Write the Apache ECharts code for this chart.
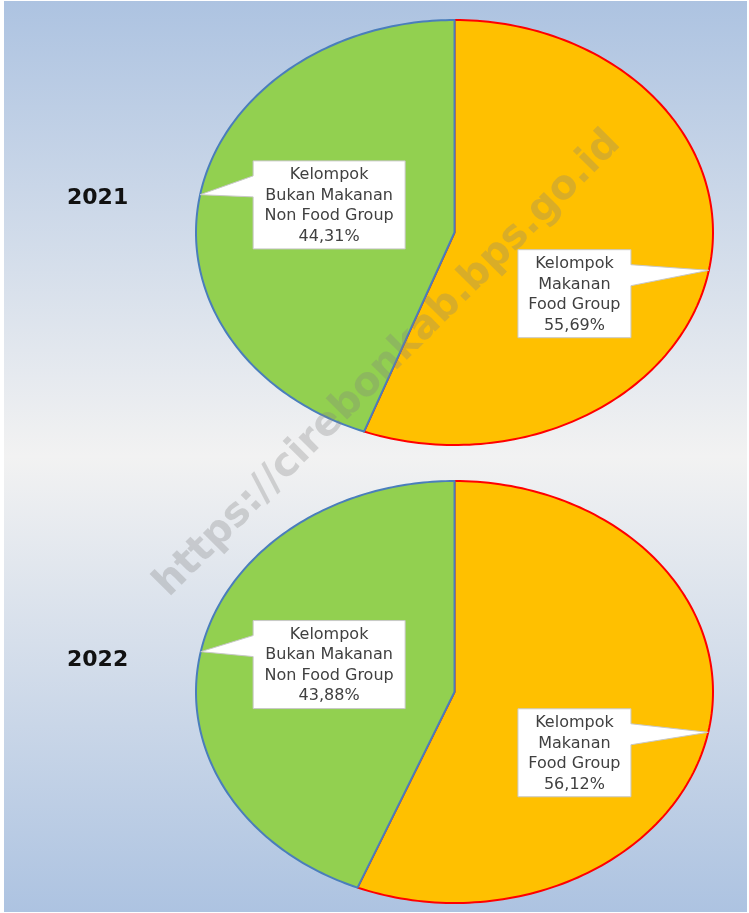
<!DOCTYPE html>
<html>
<head>
<meta charset="utf-8">
<style>
  html, body { margin: 0; padding: 0; background: #ffffff; }
  #chart { width: 749px; height: 913px; }
</style>
<script src="https://cdn.jsdelivr.net/npm/echarts@6/dist/echarts.min.js"></script>
</head>
<body>
<div id="chart"></div>
<script>
// ---- data ----
const years = ['2021', '2022'];
const categoriesId = ['Kelompok Makanan', 'Kelompok Bukan Makanan'];
const categoriesEn = ['Food Group', 'Non Food Group'];
const share2021 = [55.69, 44.31];
const share2022 = [56.12, 43.88];
const watermark = 'https://cirebonkab.bps.go.id';

// ---- styles ----
const sliceFill = ['#ffc000', '#92d050'];
const sliceBorder = ['#ff0000', '#4a7ebb'];
const boxAnchor = [[0.464, -0.288], [-0.485, 0.13]]; // label box centre, in pie units
const boxSize = [[113, 88], [152, 88]];
const shares = [share2021, share2022];

function fmtPct(v) { return v.toFixed(2).replace('.', ',') + '%'; }

function makeRender(yearIdx) {
  const vals = shares[yearIdx];
  const total = vals.reduce((a, b) => a + b, 0);
  return function (params, api) {
    const i = params.dataIndex;
    let before = 0;
    for (let k = 0; k < i; k++) before += vals[k];
    const v = api.value(1);
    const a0 = before / total * Math.PI * 2;
    const a1 = (before + v) / total * Math.PI * 2;
    const pts = [api.coord([0, 0])];
    const N = 160;
    for (let k = 0; k <= N; k++) {
      const t = a0 + (a1 - a0) * k / N;
      pts.push(api.coord([Math.sin(t), Math.cos(t)]));
    }
    const mid = (a0 + a1) / 2;
    const tip = api.coord([Math.sin(mid), Math.cos(mid)]);
    const c = api.coord(boxAnchor[i]);
    const w = boxSize[i][0], h = boxSize[i][1];
    const x0 = c[0] - w / 2, x1 = c[0] + w / 2, y0 = c[1] - h / 2, y1 = c[1] + h / 2;
    let callout;
    if (tip[0] < x0) {
      callout = [[x0, y0], [x1, y0], [x1, y1], [x0, y1], [x0, y0 + 36], tip, [x0, y0 + 15]];
    } else {
      callout = [[x0, y0], [x1, y0], [x1, y0 + 15], tip, [x1, y0 + 36], [x1, y1], [x0, y1]];
    }
    const label = categoriesId[i].replace(' ', '\n') + '\n' + categoriesEn[i] + '\n' + fmtPct(v);
    return {
      type: 'group',
      children: [
        {
          type: 'polygon',
          shape: { points: pts },
          style: { fill: sliceFill[i], stroke: sliceBorder[i], lineWidth: 2, lineJoin: 'round' },
          z2: 1
        },
        {
          type: 'polygon',
          shape: { points: callout },
          style: { fill: '#ffffff', stroke: '#c8c8c8', lineWidth: 1 },
          z2: 10
        },
        {
          type: 'text',
          x: c[0],
          y: c[1] + 1,
          style: {
            text: label,
            align: 'center',
            verticalAlign: 'middle',
            fontSize: 16,
            fontFamily: 'DejaVu Sans',
            lineHeight: 20.5,
            fill: '#404040'
          },
          z2: 11
        }
      ]
    };
  };
}

const chart = echarts.init(document.getElementById('chart'), null, { renderer: 'canvas' });
const grids = [
  { left: 196, top: 20, width: 517, height: 425 },
  { left: 196, top: 481, width: 517, height: 422 }
];
const titleY = [198, 660];

chart.setOption({
  animation: false,
  backgroundColor: '#ffffff',
  grid: grids,
  xAxis: grids.map((g, k) => ({ type: 'value', gridIndex: k, min: -1, max: 1, show: false })),
  yAxis: grids.map((g, k) => ({ type: 'value', gridIndex: k, min: -1, max: 1, show: false })),
  graphic: [
    {
      type: 'rect',
      z: -10,
      silent: true,
      shape: { x: 4, y: 1, width: 743, height: 911 },
      style: {
        fill: new echarts.graphic.LinearGradient(0, 0, 0, 1, [
          { offset: 0, color: '#adc3e1' },
          { offset: 0.5, color: '#f2f2f2' },
          { offset: 1, color: '#adc3e1' }
        ])
      }
    },
    ...years.map((y, k) => ({
      type: 'text',
      z: 5,
      x: 67,
      y: titleY[k],
      style: {
        text: y,
        verticalAlign: 'middle',
        fontSize: 22,
        fontWeight: 'bold',
        fontFamily: 'DejaVu Sans',
        fill: '#111111'
      }
    })),
    {
      type: 'text',
      z: 100,
      silent: true,
      x: 388,
      y: 364,
      rotation: Math.PI / 4,
      style: {
        text: watermark,
        align: 'center',
        verticalAlign: 'middle',
        fontSize: 40,
        fontWeight: 'bold',
        fontFamily: 'DejaVu Sans',
        fill: 'rgba(128,128,128,0.3)'
      }
    }
  ],
  series: years.map((y, k) => ({
    type: 'custom',
    name: y,
    coordinateSystem: 'cartesian2d',
    xAxisIndex: k,
    yAxisIndex: k,
    clip: false,
    silent: true,
    renderItem: makeRender(k),
    dimensions: ['slice', 'share'],
    encode: { x: 'slice', y: 'slice' },
    data: shares[k].map((v, i) => [i, v])
  }))
});
</script>
</body>
</html>
